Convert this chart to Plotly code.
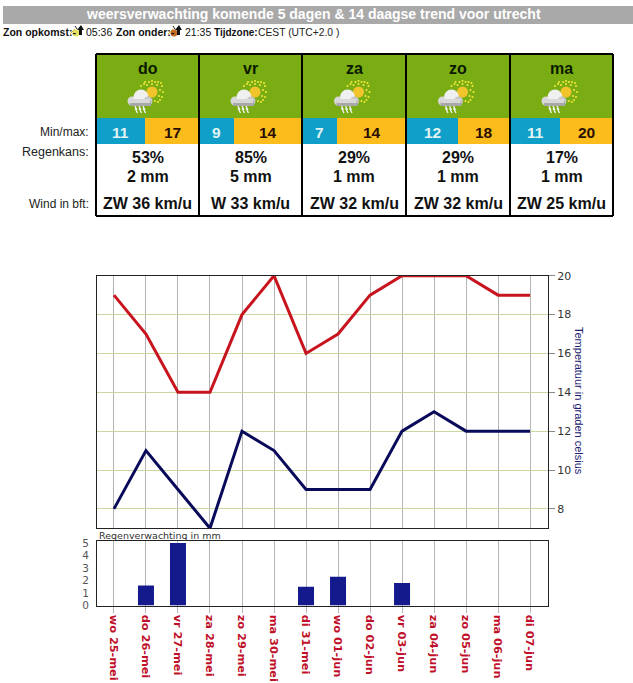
import plotly.graph_objects as go

# ---------- data ----------
dates = ["wo 25-mei", "do 26-mei", "vr 27-mei", "za 28-mei", "zo 29-mei", "ma 30-mei", "di 31-mei",
         "wo 01-jun", "do 02-jun", "vr 03-jun", "za 04-jun", "zo 05-jun", "ma 06-jun", "di 07-jun"]
temp_max = [19, 17, 14, 14, 18, 20, 16, 17, 19, 20, 20, 20, 19, 19]
temp_min = [8, 11, 9, 7, 12, 11, 9, 9, 9, 12, 13, 12, 12, 12]
rain_mm = [0, 1.6, 5, 0, 0, 0, 1.5, 2.3, 0, 1.8, 0, 0, 0, 0]

days = ["do", "vr", "za", "zo", "ma"]
day_min = [11, 9, 7, 12, 11]
day_max = [17, 14, 14, 18, 20]
day_chance = ["53%", "85%", "29%", "29%", "17%"]
day_mm = ["2 mm", "5 mm", "1 mm", "1 mm", "1 mm"]
day_wind = ["ZW 36 km/u", "W 33 km/u", "ZW 32 km/u", "ZW 32 km/u", "ZW 25 km/u"]

# ---------- layout constants ----------
W, H = 633, 683
X0, X1 = 97, 548
COLS = [96, 199, 302, 406, 510, 613]
SPLITS = [145, 234, 337, 458, 560]
ARIAL = "Liberation Sans, Arial, sans-serif"
VERD = "DejaVu Sans, Verdana, sans-serif"
px = lambda x: x / W
py = lambda y: 1 - y / H

shapes, notes = [], []


def rect(x0, y0, x1, y1, fill, line=None, lw=0):
    shapes.append(dict(type="rect", xref="paper", yref="paper", x0=px(x0), x1=px(x1), y0=py(y1), y1=py(y0),
                       fillcolor=fill, line=dict(color=line or fill, width=lw), layer="below"))


def path(points, fill=None, color=None, width=1, closed=True):
    d = "M " + " L ".join(f"{px(a):.5f},{py(b):.5f}" for a, b in points) + (" Z" if closed else "")
    shapes.append(dict(type="path", xref="paper", yref="paper", path=d,
                       fillcolor=fill or "rgba(0,0,0,0)",
                       line=dict(color=color or "rgba(0,0,0,0)", width=width), layer="below"))


def disc(cx, cy, r, fill):
    shapes.append(dict(type="circle", xref="paper", yref="paper", x0=px(cx - r), x1=px(cx + r),
                       y0=py(cy + r), y1=py(cy - r), fillcolor=fill, line=dict(width=0), layer="below"))


def text(x, y, s, size, color="#111", bold=False, anchor="center", family=ARIAL, angle=0):
    # annotations carry a small built-in padding; compensate so x is the real text edge
    x = x - 2 if anchor == "left" else x + 2 if anchor == "right" else x
    notes.append(dict(xref="paper", yref="paper", x=px(x), y=py(y), text=f"<b>{s}</b>" if bold else s,
                      showarrow=False, xanchor=anchor, yanchor="middle", textangle=angle,
                      font=dict(size=size, color=color, family=family)))


def weather_icon(cx, cy):
    # sun with dotted rays
    sx, sy = cx + 8, cy - 6
    rays = [(-11, -1), (-11, -6), (-7, -10), (0, -11), (6, -10), (10, -6), (11, 0), (10, 5), (6, 10), (-8, -8), (0, -8),
            (5, -7), (8, -2), (7, 4), (-5, -7), (9, -9), (3, -10), (-3, -10), (8, 8), (3, 9)]
    for dx, dy in rays:
        disc(sx + dx, sy + dy, 1, "#f6ea3a")
    disc(sx, sy, 5.5, "#f2c42c")
    # cloud: light top fading to a grey base
    disc(cx - 12, cy + 3, 4.5, "#d8d8d8")
    disc(cx - 3, cy - 1, 7.5, "#f0f0f0")
    disc(cx + 4, cy + 3, 4.5, "#c8c8c8")
    rect(cx - 14, cy + 3, cx + 7, cy + 8, "#a8a8a8")
    rect(cx - 14, cy + 1, cx + 6, cy + 5, "#d8d8d8")
    # rain streaks
    for dx in (-9, -5, -1):
        path([(cx + dx, cy + 8), (cx + dx + 1.5, cy + 11), (cx + dx + 0.5, cy + 11), (cx + dx + 2.5, cy + 15)],
             color="#f6f6f6", width=1.3, closed=False)


def small_sun(cx, cy, dark=False):
    disc(cx - 2, cy + 2, 3.5, "#c86a20" if dark else "#e8e060")
    path([(cx - 8, cy + 3), (cx - 3, cy - 2)], color="#d8b020", width=1, closed=False)
    path([(cx - 3, cy - 5), (cx - 1, cy - 2)], color="#222", width=1, closed=False)
    path([(cx + 1, cy + 4), (cx + 1, cy - 1), (cx - 1, cy - 1), (cx + 3, cy - 6), (cx + 6, cy - 1),
          (cx + 4, cy - 1), (cx + 4, cy + 4)], fill="#111")


# ---------- header ----------
rect(3, 6, 633, 24, "#a9a9a9")
text(313, 14, "weersverwachting komende 5 dagen &amp; 14 daagse trend voor utrecht", 14, "#ffffff", True)
text(3, 32, "Zon opkomst:-", 10.5, "#111", True, "left")
small_sun(78, 31)
text(86, 32, "05:36", 10.5, "#111", False, "left")
text(116, 32, "Zon onder:-", 10.5, "#111", True, "left")
small_sun(176, 31, True)
text(185, 32, "21:35", 10.5, "#111", False, "left")
text(214, 32, "Tijdzone:", 10, "#111", True, "left")
text(258, 32, "CEST (UTC+2.0 )", 10.3, "#222", False, "left")

# ---------- forecast table ----------
text(89, 132, "Min/max:", 12, "#222", False, "right")
text(89, 152, "Regenkans:", 12.5, "#222", False, "right")
text(89, 204, "Wind in bft:", 12, "#222", False, "right")
for i, d in enumerate(days):
    a, b, s = COLS[i], COLS[i + 1], SPLITS[i]
    c = (a + b) / 2
    rect(a, 54, b, 118, "#7aac14")
    rect(a, 118, s, 144, "#0f9fc8")
    rect(s, 118, b, 144, "#fcbc1c")
    text(c, 68, d, 16, "#0a1a00", True)
    weather_icon(c - 3.5, 98)
    text((a + s) / 2, 132, day_min[i], 15.5, "#e0f4f4", True)
    text((s + b) / 2, 132, day_max[i], 15.5, "#2a1000", True)
    text(c, 157, day_chance[i], 16, "#111", True)
    text(c, 177, day_mm[i], 16, "#111", True)
    text(c, 203.5, day_wind[i], 16, "#111", True)
for x in COLS:
    shapes.append(dict(type="line", xref="paper", yref="paper", x0=px(x), x1=px(x), y0=py(216), y1=py(54),
                       line=dict(color="#000", width=2), layer="above"))
for y in (54, 216):
    shapes.append(dict(type="line", xref="paper", yref="paper", x0=px(COLS[0]), x1=px(COLS[-1]), y0=py(y), y1=py(y),
                       line=dict(color="#000", width=2), layer="above"))

# ---------- charts ----------
fig = go.Figure()
fig.add_trace(go.Scatter(x=dates, y=temp_max, mode="lines", name="Max", line=dict(color="#c8141e", width=3),
                         xaxis="x2", yaxis="y2"))
fig.add_trace(go.Scatter(x=dates, y=temp_min, mode="lines", name="Min", line=dict(color="#0a0a5a", width=3),
                         xaxis="x2", yaxis="y2"))
fig.add_trace(go.Bar(x=dates, y=rain_mm, name="Regen", width=0.5, marker=dict(color="#141a8c", line=dict(width=0)),
                     xaxis="x", yaxis="y"))

text(99, 535.5, "Regenverwachting in mm", 9.5, "#333", False, "left", VERD)
text(579, 401, "Temperatuur in graden celsius", 11, "#1a1a70", False, "center", ARIAL, 90)

GRIDV = "#b4b4b4"
xcommon = dict(type="category", categoryorder="array", categoryarray=dates, range=[-0.53, 13.56],
               domain=[px(X0), px(X1)], showgrid=True, gridcolor=GRIDV, gridwidth=1,
               showline=True, linecolor="#222", linewidth=1, mirror=True, tickmode="array", tickvals=dates)
fig.update_layout(
    width=W, height=H, margin=dict(l=0, r=0, t=0, b=0, autoexpand=False), paper_bgcolor="#fff", plot_bgcolor="#fff",
    showlegend=False, shapes=shapes, annotations=notes,
    xaxis=dict(xcommon, anchor="y", ticks="outside", ticklen=6, tickcolor=GRIDV, tickangle=90,
               tickfont=dict(family=VERD, size=11.3, color="#c0102a", weight="bold")),
    yaxis=dict(domain=[py(605.5), py(541)], range=[0, 5.16], tick0=0, dtick=1, showgrid=False, zeroline=False,
               showline=True, linecolor="#222", linewidth=1, mirror=True, anchor="x",
               ticks="outside", ticklen=5, tickcolor="rgba(0,0,0,0)",
               tickfont=dict(family=VERD, size=10.5, color="#555")),
    xaxis2=dict(xcommon, anchor="y2", ticks="", showticklabels=False),
    yaxis2=dict(domain=[py(528.3), py(275.7)], range=[7, 20], tick0=8, dtick=2, side="right", anchor="x2",
                showgrid=True, gridcolor="#c8d8a0", gridwidth=1, zeroline=False,
                showline=True, linecolor="#222", linewidth=1, mirror=True,
                ticks="outside", ticklen=6, tickcolor="#888",
                tickfont=dict(family=VERD, size=11, color="#333")),
)
fig.write_html("out.html", config={"displayModeBar": False}, post_script="document.body.style.margin='0';")
